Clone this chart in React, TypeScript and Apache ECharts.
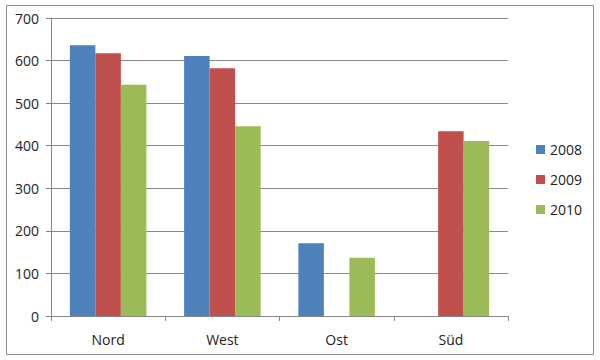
import React, { useEffect, useRef } from "react";
import * as echarts from "echarts";

const categories = ["Nord", "West", "Ost", "Süd"];
const seriesNames = ["2008", "2009", "2010"];
const values2008: (number | null)[] = [636, 611, 171, null];
const values2009: (number | null)[] = [617, 582, null, 434];
const values2010: (number | null)[] = [543, 446, 137, 411];
const colors = ["#4F81BD", "#C0504D", "#9BBB59"];

export default function App() {
  const ref = useRef<HTMLDivElement>(null);
  useEffect(() => {
    if (!ref.current) return;
    const chart = echarts.init(ref.current, undefined, { renderer: "svg" });
    const font = "'Open Sans', 'Noto Sans', sans-serif";
    const data = [values2008, values2009, values2010];
    chart.setOption({
      animation: false,
      backgroundColor: "#ffffff",
      textStyle: { fontFamily: font },
      graphic: [
        {
          type: "rect",
          shape: { x: 6.5, y: 5.5, width: 587, height: 349 },
          style: { fill: "none", stroke: "#8c8c8c", lineWidth: 1 },
          z: -1,
        },
      ],
      grid: { left: 51, top: 18, right: 92, bottom: 44, containLabel: false },
      legend: {
        orient: "vertical",
        left: 531,
        top: 136,
        itemWidth: 9,
        itemHeight: 9,
        itemGap: 13,
        icon: "rect",
        textStyle: { fontSize: 14, color: "#222", fontFamily: font, lineHeight: 17 },
        data: seriesNames,
      },
      xAxis: {
        type: "category",
        data: categories,
        axisLine: { lineStyle: { color: "#868686" } },
        axisTick: { show: true, length: 5, lineStyle: { color: "#868686" } },
        axisLabel: { fontSize: 14, color: "#222", margin: 16 },
      },
      yAxis: {
        type: "value",
        min: 0,
        max: 700,
        interval: 100,
        axisLine: { show: true, lineStyle: { color: "#868686" } },
        axisTick: { show: true, length: 5, lineStyle: { color: "#868686" } },
        axisLabel: { fontSize: 14, color: "#222", margin: 12 },
        splitLine: { lineStyle: { color: "#8a8a8a", width: 1 } },
      },
      series: seriesNames.map((name, i) => ({
        name,
        type: "bar",
        data: data[i],
        itemStyle: { color: colors[i] },
        barGap: "0%",
        barCategoryGap: "33%",
      })),
    });
    return () => chart.dispose();
  }, []);
  return (
    <div
      ref={ref}
      style={{ position: "fixed", left: 0, top: 0, width: 600, height: 360 }}
    />
  );
}
